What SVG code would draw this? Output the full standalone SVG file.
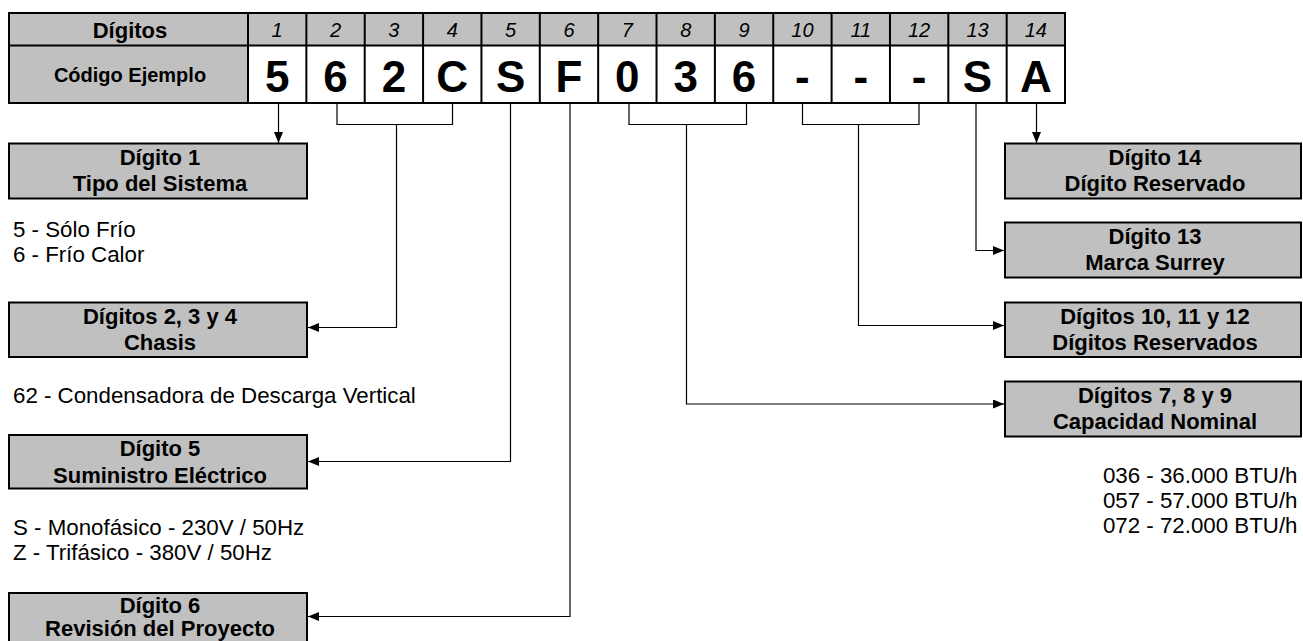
<svg xmlns="http://www.w3.org/2000/svg" width="1303" height="641" viewBox="0 0 1303 641">
<defs>
<marker id="arr" markerWidth="11" markerHeight="9" refX="11" refY="4.5" orient="auto" markerUnits="userSpaceOnUse"><path d="M0,0 L11,4.5 L0,9 z" fill="#000"/></marker>
<style>
.box{fill:#c0c0c0;stroke:#000;stroke-width:2}
.grid{fill:none;stroke:#000;stroke-width:2}
.bt{font-family:"Liberation Sans",Arial,sans-serif;font-weight:bold;font-size:22px;text-anchor:middle;fill:#000}
.lbl{font-family:"Liberation Sans",Arial,sans-serif;font-weight:bold;font-size:20px;text-anchor:middle;fill:#000}
.num{font-family:"Liberation Sans",Arial,sans-serif;font-style:italic;font-size:20px;text-anchor:middle;fill:#000}
.code{font-family:"Liberation Sans",Arial,sans-serif;font-weight:bold;font-size:44px;text-anchor:middle;fill:#000}
.pt{font-family:"Liberation Sans",Arial,sans-serif;font-size:22.3px;fill:#000}
.conn{fill:none;stroke:#000;stroke-width:1.2}
</style>
</defs>
<rect width="1303" height="641" fill="#fff"/>

<g id="table">
<rect x="9" y="13" width="1056" height="32.5" fill="#c0c0c0"/>
<rect x="9" y="45.5" width="239" height="57.5" fill="#c0c0c0"/>
<path class="grid" d="M248,13V103 M306.36,13V103 M364.72,13V103 M423.08,13V103 M481.44,13V103 M539.8,13V103 M598.16,13V103 M656.52,13V103 M714.88,13V103 M773.24,13V103 M831.6,13V103 M889.96,13V103 M948.32,13V103 M1006.68,13V103 M9,45.5H1065"/>
<rect class="grid" x="9" y="13" width="1056" height="90"/>
<text class="lbl" x="130" y="37.5" style="font-size:22px">Dígitos</text>
<text class="lbl" x="130" y="81.5">Código Ejemplo</text>
<text class="num" x="277.18" y="37">1</text>
<text class="num" x="335.54" y="37">2</text>
<text class="num" x="393.9" y="37">3</text>
<text class="num" x="452.26" y="37">4</text>
<text class="num" x="510.62" y="37">5</text>
<text class="num" x="568.98" y="37">6</text>
<text class="num" x="627.34" y="37">7</text>
<text class="num" x="685.7" y="37">8</text>
<text class="num" x="744.06" y="37">9</text>
<text class="num" x="802.42" y="37">10</text>
<text class="num" x="860.78" y="37">11</text>
<text class="num" x="919.14" y="37">12</text>
<text class="num" x="977.5" y="37">13</text>
<text class="num" x="1035.86" y="37">14</text>
<text class="code" x="277.18" y="91.5">5</text>
<text class="code" x="335.54" y="91.5">6</text>
<text class="code" x="393.9" y="91.5">2</text>
<text class="code" x="452.26" y="91.5">C</text>
<text class="code" x="510.62" y="91.5">S</text>
<text class="code" x="568.98" y="91.5">F</text>
<text class="code" x="627.34" y="91.5">0</text>
<text class="code" x="685.7" y="91.5">3</text>
<text class="code" x="744.06" y="91.5">6</text>
<text class="code" x="802.42" y="91.5">-</text>
<text class="code" x="860.78" y="91.5">-</text>
<text class="code" x="919.14" y="91.5">-</text>
<text class="code" x="977.5" y="91.5">S</text>
<text class="code" x="1035.86" y="91.5">A</text>
</g>

<g id="connectors">
<path class="conn" d="M278.5,104V143" marker-end="url(#arr)"/>
<path class="conn" d="M337,104V124.5H452.5V104"/>
<path class="conn" d="M396.5,124.5V327.5H308" marker-end="url(#arr)"/>
<path class="conn" d="M510.5,104V461.5H308" marker-end="url(#arr)"/>
<path class="conn" d="M570,104V616.5H308" marker-end="url(#arr)"/>
<path class="conn" d="M629,104V124.5H746.5V104"/>
<path class="conn" d="M686.5,124.5V404H1004" marker-end="url(#arr)"/>
<path class="conn" d="M802.5,104V124.5H919V104"/>
<path class="conn" d="M858.5,124.5V325.5H1004" marker-end="url(#arr)"/>
<path class="conn" d="M976,104V250.5H1004" marker-end="url(#arr)"/>
<path class="conn" d="M1036.5,104V143" marker-end="url(#arr)"/>
</g>

<g id="box-d1">
<rect class="box" x="9" y="143.5" width="298" height="55"/>
<text class="bt" x="160" y="164.5">Dígito 1</text>
<text class="bt" x="160" y="191">Tipo del Sistema</text>
</g>
<g id="box-d234">
<rect class="box" x="9" y="302.5" width="298" height="54.5"/>
<text class="bt" x="160" y="323.5">Dígitos 2, 3 y 4</text>
<text class="bt" x="160" y="350">Chasis</text>
</g>
<g id="box-d5">
<rect class="box" x="9" y="435" width="298" height="53.5"/>
<text class="bt" x="160" y="456">Dígito 5</text>
<text class="bt" x="160" y="482.5">Suministro Eléctrico</text>
</g>
<g id="box-d6">
<rect class="box" x="9" y="593" width="298" height="56"/>
<text class="bt" x="160" y="612.5">Dígito 6</text>
<text class="bt" x="160" y="636">Revisión del Proyecto</text>
</g>
<g id="box-d14">
<rect class="box" x="1005" y="143.5" width="296" height="55"/>
<text class="bt" x="1155" y="164.5">Dígito 14</text>
<text class="bt" x="1155" y="191">Dígito Reservado</text>
</g>
<g id="box-d13">
<rect class="box" x="1005" y="222.5" width="296" height="55"/>
<text class="bt" x="1155" y="243.5">Dígito 13</text>
<text class="bt" x="1155" y="270">Marca Surrey</text>
</g>
<g id="box-d101112">
<rect class="box" x="1005" y="302.5" width="296" height="54.5"/>
<text class="bt" x="1155" y="323.5">Dígitos 10, 11 y 12</text>
<text class="bt" x="1155" y="350">Dígitos Reservados</text>
</g>
<g id="box-d789">
<rect class="box" x="1005" y="381.5" width="296" height="55"/>
<text class="bt" x="1155" y="402.5">Dígitos 7, 8 y 9</text>
<text class="bt" x="1155" y="429">Capacidad Nominal</text>
</g>

<g id="notes">
<text class="pt" x="13" y="236.5">5 - Sólo Frío</text>
<text class="pt" x="13" y="261.5">6 - Frío Calor</text>
<text class="pt" x="13" y="403">62 - Condensadora de Descarga Vertical</text>
<text class="pt" x="13" y="535">S - Monofásico - 230V / 50Hz</text>
<text class="pt" x="13" y="560">Z - Trifásico - 380V / 50Hz</text>
<text class="pt" x="1297.5" y="483" text-anchor="end">036 - 36.000 BTU/h</text>
<text class="pt" x="1297.5" y="508" text-anchor="end">057 - 57.000 BTU/h</text>
<text class="pt" x="1297.5" y="533" text-anchor="end">072 - 72.000 BTU/h</text>
</g>
</svg>
